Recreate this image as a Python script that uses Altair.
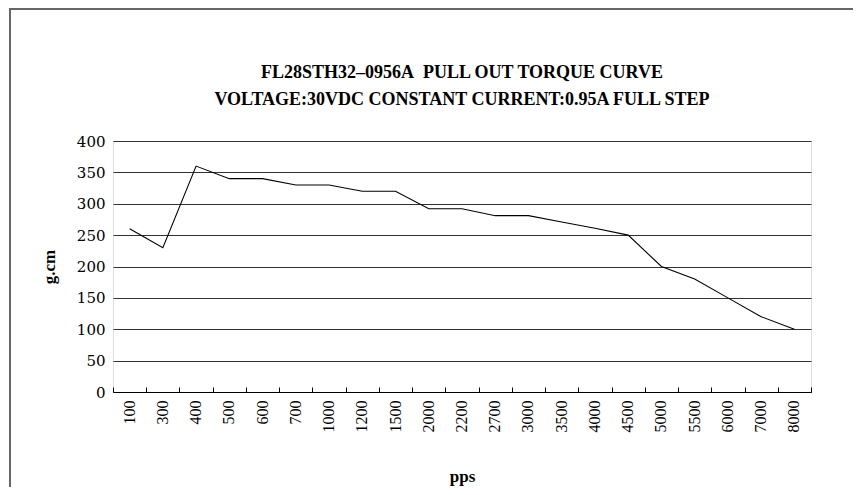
import altair as alt
import pandas as pd

speeds = ["100", "300", "400", "500", "600", "700", "1000", "1200", "1500", "2000",
          "2200", "2700", "3000", "3500", "4000", "4500", "5000", "5500", "6000",
          "7000", "8000"]
torque = [260, 230, 360, 340, 340, 330, 330, 320, 320, 292, 292, 281, 281, 271,
          261, 250, 200, 180, 150, 120, 100]
title_lines = ["FL28STH32\u20130956A\u00a0 PULL OUT TORQUE CURVE",
               "VOLTAGE:30VDC CONSTANT CURRENT:0.95A FULL STEP"]
y_ticks = [0, 50, 100, 150, 200, 250, 300, 350, 400]

df = pd.DataFrame({"pps": speeds, "torque": torque})

W, H = 698, 251
FONT = "Liberation Serif"
YFONT = "DejaVu Serif"

xscale = alt.Scale(type="band", domain=speeds, paddingInner=0, paddingOuter=0)
yscale = alt.Scale(domain=[0, 400], nice=False)

y_axis = alt.Axis(values=y_ticks, grid=True, gridColor="#333333",
                  gridWidth=1, ticks=False, domain=False,
                  labelPadding=8, labelFontSize=15, labelFont=YFONT,
                  labelFontWeight="normal",
                  labelColor="black", labelOverlap=False,
                  title="g.cm", titleFont=FONT,
                  titleFontSize=17, titleFontWeight="bold",
                  titleColor="black", titlePadding=18)

base = alt.Chart(df)

line = base.mark_line(color="black", strokeWidth=1.1).encode(
    x=alt.X("pps:N", scale=xscale, sort=speeds, bandPosition=0.5,
            axis=alt.Axis(orient="bottom", labelAngle=-90, ticks=False,
                          labelPadding=8, domain=True, domainColor="black",
                          grid=False, title="pps", titleFontSize=17,
                          titleFontWeight="bold", titlePadding=36,
                          labelFontSize=16, labelFont=FONT, titleFont=FONT,
                          labelColor="black", titleColor="black",
                          labelOverlap=False)),
    y=alt.Y("torque:Q", scale=yscale, axis=y_axis),
)

ticks_layer = base.mark_line(opacity=0).encode(
    x=alt.X("pps:N", scale=xscale, sort=speeds, bandPosition=0.5,
            axis=alt.Axis(orient="top", offset=-H, labels=False, ticks=True,
                          tickSize=5, tickColor="black", tickBand="extent",
                          domain=False, grid=False, title=None)),
    y=alt.Y("torque:Q", scale=yscale, axis=y_axis),
)

border = alt.Chart(pd.DataFrame({"a": [0]})).mark_rect(
    fillOpacity=0, stroke="#666666", strokeWidth=2
).encode(
    x=alt.value(-103), y=alt.value(-132), x2=alt.value(780), y2=alt.value(400)
)

chart = alt.layer(border, line, ticks_layer).resolve_axis(x="independent").properties(
    width=W, height=H,
    title=alt.TitleParams(text=title_lines, anchor="middle", fontSize=18,
                          font=FONT, fontWeight="bold", lineHeight=27,
                          offset=-101, color="black"),
    padding={"left": 105, "top": 133, "right": 42, "bottom": 95},
    autosize=alt.AutoSizeParams(type="none"),
).configure_view(stroke="black", strokeWidth=1.2).configure(background="white")

chart.save("out.html", embed_options={"renderer": "svg", "actions": False})
